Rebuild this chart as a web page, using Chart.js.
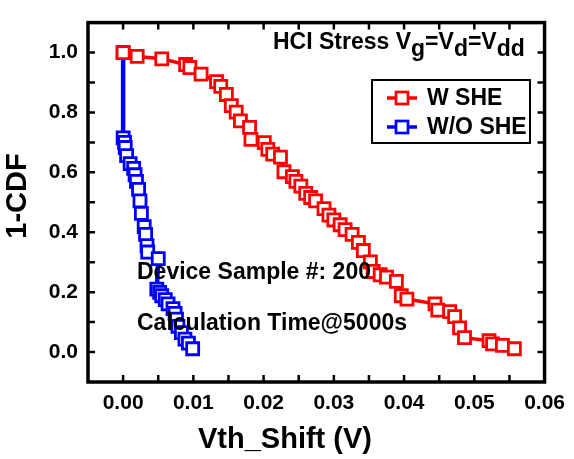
<!DOCTYPE html>
<html>
<head>
<meta charset="utf-8">
<script src="https://cdn.jsdelivr.net/npm/chart.js@4.4.0/dist/chart.umd.min.js"></script>
<style>
  html, body { margin: 0; padding: 0; background: #fff; }
  #wrap { width: 574px; height: 459px; }
</style>
</head>
<body>
<div id="wrap"><canvas id="chart"></canvas></div>
<script>
// W SHE
var sheX = [0.0000, 0.0020, 0.0055, 0.0089, 0.0095, 0.0111, 0.0133, 0.0139, 0.0147, 0.0154,
            0.0161, 0.0167, 0.0180, 0.0182, 0.0201, 0.0206, 0.0213, 0.0224, 0.0229, 0.0241,
            0.0246, 0.0253, 0.0260, 0.0267, 0.0274, 0.0286, 0.0293, 0.0300, 0.0309, 0.0316,
            0.0326, 0.0335, 0.0342, 0.0352, 0.0356, 0.0366, 0.0375, 0.0389, 0.0396, 0.0404,
            0.0444, 0.0448, 0.0465, 0.0472, 0.0479, 0.0486, 0.0521, 0.0526, 0.0540, 0.0557];
var sheY = [1.000, 0.987, 0.979, 0.960, 0.950, 0.928, 0.903, 0.887, 0.860, 0.823,
            0.801, 0.772, 0.750, 0.710, 0.699, 0.677, 0.661, 0.651, 0.602, 0.586,
            0.570, 0.554, 0.530, 0.516, 0.505, 0.479, 0.457, 0.441, 0.425, 0.409,
            0.393, 0.366, 0.339, 0.301, 0.269, 0.258, 0.250, 0.236, 0.188, 0.177,
            0.161, 0.140, 0.135, 0.118, 0.081, 0.048, 0.038, 0.027, 0.022, 0.011];
// W/O SHE
var noX = [0.0000, 0.0000, 0.0002, 0.0003, 0.0005, 0.0010, 0.0015, 0.0017, 0.0019, 0.0022,
           0.0024, 0.0026, 0.0030, 0.0032, 0.0034, 0.0035, 0.0050, 0.0048, 0.0052, 0.0055,
           0.0060, 0.0064, 0.0071, 0.0074, 0.0076, 0.0078, 0.0083, 0.0088, 0.0093, 0.0099];
var noY = [1.000, 0.715, 0.700, 0.683, 0.656, 0.629, 0.613, 0.592, 0.570, 0.543,
           0.505, 0.463, 0.419, 0.393, 0.355, 0.334, 0.312, 0.210, 0.199, 0.188,
           0.175, 0.161, 0.145, 0.129, 0.110, 0.086, 0.065, 0.043, 0.030, 0.011];

var xTicks = [0, 0.01, 0.02, 0.03, 0.04, 0.05, 0.06];
var yTicks = [0, 0.2, 0.4, 0.6, 0.8, 1.0];
var xMarks = [0, 0.005, 0.01, 0.015, 0.02, 0.025, 0.03, 0.035, 0.04, 0.045, 0.05, 0.055];
var yMarks = [0, 0.1, 0.2, 0.3, 0.4, 0.5, 0.6, 0.7, 0.8, 0.9, 1.0];

var seriesNames = ['W SHE', 'W/O SHE'];
var seriesColors = ['#ff0000', '#0000ff'];
var titleParts = [['HCI Stress V', 0], ['g', 1], ['=V', 0], ['d', 1], ['=V', 0], ['dd', 1]];
var notes = ['Device Sample #: 200', 'Calculation Time@5000s'];

var FONT = "'Liberation Sans', Arial, sans-serif";
Chart.defaults.font.family = FONT;

function pts(xs, ys) {
  return xs.map(function (x, i) { return { x: x, y: ys[i] }; });
}

var decor = {
  id: 'decor',
  afterDraw: function (chart) {
    var ctx = chart.ctx, a = chart.chartArea;
    var sx = chart.scales.x, sy = chart.scales.y;
    ctx.save();
    // frame
    ctx.strokeStyle = '#000';
    ctx.lineWidth = 3.5;
    ctx.strokeRect(a.left, a.top, a.right - a.left, a.bottom - a.top);
    // inward ticks on all sides
    ctx.lineWidth = 2.5;
    ctx.beginPath();
    xMarks.forEach(function (v) {
      var p = sx.getPixelForValue(v);
      ctx.moveTo(p, a.bottom); ctx.lineTo(p, a.bottom - 7);
      ctx.moveTo(p, a.top); ctx.lineTo(p, a.top + 7);
    });
    yMarks.forEach(function (v) {
      var p = sy.getPixelForValue(v);
      ctx.moveTo(a.left, p); ctx.lineTo(a.left + 7, p);
      ctx.moveTo(a.right, p); ctx.lineTo(a.right - 7, p);
    });
    ctx.stroke();

    ctx.fillStyle = '#000';
    // axis titles
    ctx.font = 'bold 29px ' + FONT;
    ctx.textAlign = 'center';
    ctx.textBaseline = 'alphabetic';
    ctx.fillText('Vth_Shift (V)', 285, 448);
    ctx.save();
    ctx.translate(26, 196);
    ctx.rotate(-Math.PI / 2);
    ctx.fillText('1-CDF', 0, 0);
    ctx.restore();

    // annotations
    ctx.font = 'bold 23px ' + FONT;
    ctx.textAlign = 'left';
    var tx = 273;
    titleParts.forEach(function (p) {
      ctx.fillText(p[0], tx, 49 + (p[1] ? 7 : 0));
      tx += ctx.measureText(p[0]).width;
    });
    ctx.fillText(notes[0], 137, 279);
    ctx.fillText(notes[1], 137, 330);

    // legend
    ctx.lineWidth = 2;
    ctx.strokeStyle = '#000';
    ctx.strokeRect(372, 80, 158, 63);
    ctx.textBaseline = 'middle';
    [98, 127].forEach(function (y, i) {
      ctx.strokeStyle = seriesColors[i];
      ctx.lineWidth = 3.5;
      ctx.beginPath(); ctx.moveTo(387, y); ctx.lineTo(417, y); ctx.stroke();
      ctx.fillStyle = '#fff';
      ctx.lineWidth = 2.7;
      ctx.fillRect(396, y - 6, 12, 12);
      ctx.strokeRect(396, y - 6, 12, 12);
      ctx.fillStyle = '#000';
      ctx.fillText(seriesNames[i], 427, y + 1);
    });
    ctx.restore();
  }
};

new Chart(document.getElementById('chart'), {
  type: 'scatter',
  data: {
    datasets: [{
      label: seriesNames[0],
      data: pts(sheX, sheY),
      showLine: true,
      borderColor: seriesColors[0],
      borderWidth: 3.5,
      pointStyle: 'rect',
      pointRadius: 8.5,
      pointBorderWidth: 2.8,
      pointBackgroundColor: '#fff',
      pointBorderColor: seriesColors[0],
      order: 1
    }, {
      label: seriesNames[1],
      data: pts(noX, noY),
      showLine: true,
      borderColor: seriesColors[1],
      borderWidth: 4.5,
      pointStyle: 'rect',
      pointRadius: 8.5,
      pointBorderWidth: 2.8,
      pointBackgroundColor: '#fff',
      pointBorderColor: seriesColors[1],
      order: 2
    }]
  },
  options: {
    responsive: true,
    maintainAspectRatio: false,
    animation: false,
    layout: { padding: { top: 11, right: 26, left: 0, bottom: 0 } },
    plugins: { legend: { display: false }, tooltip: { enabled: false } },
    scales: {
      x: {
        type: 'linear',
        min: -0.005,
        max: 0.06,
        afterFit: function (s) { s.height = 77; },
        afterBuildTicks: function (s) { s.ticks = xTicks.map(function (v) { return { value: v }; }); },
        grid: { display: false, drawTicks: false, tickLength: 0 },
        border: { display: false },
        ticks: {
          padding: 9,
          color: '#000',
          font: { size: 21, weight: 'bold' },
          maxRotation: 0,
          callback: function (v) { return v.toFixed(2); }
        }
      },
      y: {
        type: 'linear',
        min: -0.1,
        max: 1.1,
        afterFit: function (s) { s.width = 88; },
        afterBuildTicks: function (s) { s.ticks = yTicks.map(function (v) { return { value: v }; }); },
        grid: { display: false, drawTicks: false, tickLength: 0 },
        border: { display: false },
        ticks: {
          padding: 10,
          color: '#000',
          font: { size: 21, weight: 'bold' },
          callback: function (v) { return v.toFixed(1); }
        }
      }
    }
  },
  plugins: [decor]
});
</script>
</body>
</html>
